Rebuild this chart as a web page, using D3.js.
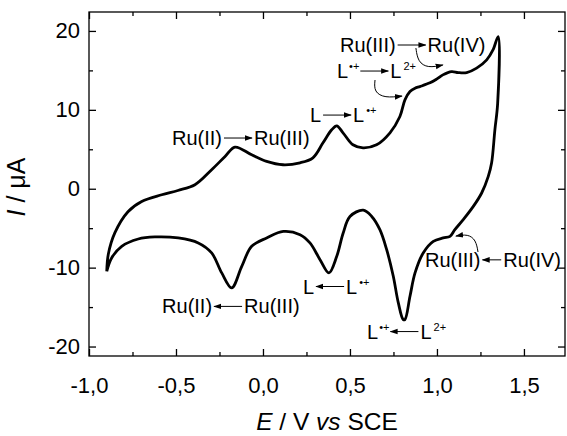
<!DOCTYPE html>
<html>
<head>
<meta charset="utf-8">
<script src="https://cdn.jsdelivr.net/npm/d3@7"></script>
<style>
  body { margin: 0; background: #fff; }
  svg { font-family: "Liberation Sans", Arial, sans-serif; }
  .axis text { font-size: 22px; fill: #000; }
  .axis line { stroke: #000; stroke-width: 1.3; }
  .axis path { display: none; }
</style>
</head>
<body>
<div id="chart"></div>
<script>
// cyclic voltammogram: anodic scan from -0.9 V to 1.35 V, then back
var scanE = [-0.898, -0.889, -0.851, -0.776, -0.697, -0.582, -0.489, -0.391, -0.295, -0.218,
  -0.161, -0.065, 0.021, 0.115, 0.213, 0.287, 0.345, 0.395, 0.424, 0.460,
  0.517, 0.575, 0.653, 0.730, 0.787, 0.816, 0.845, 0.874, 0.902, 0.960,
  0.998, 1.034, 1.084, 1.122, 1.171, 1.228, 1.286, 1.322, 1.352,
  1.349, 1.333, 1.314, 1.295, 1.257, 1.209, 1.151, 1.103, 1.075, 1.036,
  0.979, 0.921, 0.874, 0.845, 0.816, 0.806, 0.778, 0.749, 0.711, 0.672,
  0.625, 0.576, 0.500, 0.461, 0.424, 0.379, 0.328, 0.270, 0.213, 0.117,
  0.021, -0.065, -0.122, -0.180, -0.237, -0.295, -0.372, -0.487, -0.621, -0.717,
  -0.812, -0.870, -0.898]
var scanI = [-10.47, -8.3, -5.57, -2.91, -1.61, -0.76, -0.22, 0.51, 2.41, 4.09,
  5.28, 4.30, 3.46, 3.04, 3.29, 3.92, 5.82, 7.47, 7.97, 7.09,
  5.57, 5.19, 5.57, 7.09, 9.15, 11.27, 12.32, 12.75, 12.95, 13.42,
  13.89, 14.43, 14.85, 14.72, 14.72, 15.28, 16.33, 17.59, 19.28,
  10.85, 7.47, 3.25, 1.56, -0.54, -2.24, -3.92, -5.19, -6.04, -6.24,
  -6.67, -8.14, -10.67, -13.63, -16.58, -16.58, -14.47, -11.10, -7.72, -5.19,
  -3.51, -2.72, -3.51, -5.61, -8.57, -10.67, -8.99, -6.87, -5.82, -5.41,
  -6.24, -7.30, -9.84, -12.57, -10.67, -8.14, -6.87, -6.24, -6.11, -6.37,
  -7.30, -8.77, -10.47]

var xTicks = [-1, -0.5, 0, 0.5, 1, 1.5]
var xMinor = [-0.75, -0.25, 0.25, 0.75, 1.25]
var yTicks = [-20, -10, 0, 10, 20]
var yMinor = [-15, -5, 5, 15]

// redox labels: [left text, left sup, right text, right sup, E, I, direction]
var labels = [
  ["Ru(III)", "", "Ru(IV)", "", 0.443, 17.33, 1],
  ["L", "\u2022+", "L", "2+", 0.425, 14.03, 1],
  ["Ru(II)", "", "Ru(III)", "", -0.523, 5.54, 1],
  ["L", "", "L", "\u2022+", 0.270, 8.45, 1],
  ["Ru(II)", "", "Ru(III)", "", -0.580, -15.8, -1],
  ["L", "", "L", "\u2022+", 0.230, -13.28, -1],
  ["L", "\u2022+", "L", "2+", 0.598, -18.99, -1],
  ["Ru(III)", "", "Ru(IV)", "", 0.931, -9.9, -1]
]
// curved pointer arrows, E/I points
var curls = [
  [[0.879, 17.83], [0.891, 16.06], [0.948, 15.30], [1.034, 15.68]],
  [[0.644, 13.78], [0.638, 12.26], [0.701, 11.50], [0.799, 11.75]],
  [[1.236, -8.02], [1.224, -6.50], [1.178, -5.74], [1.109, -6.0]]
]

var W = 567, H = 436
var mLeft = 89, mRight = 565, mTop = 12, mBottom = 356

var svg = d3.select("#chart").append("svg")
  .attr("width", W).attr("height", H)

var defs = svg.append("defs")
defs.append("marker").attr("id", "head")
  .attr("viewBox", "0 0 10 10").attr("refX", 9).attr("refY", 5)
  .attr("markerWidth", 8).attr("markerHeight", 8)
  .attr("markerUnits", "userSpaceOnUse")
  .attr("orient", "auto")
  .append("path").attr("d", "M0,1.5 L10,5 L0,8.5 Z").attr("fill", "#000")

var x = d3.scaleLinear().domain([-1, 1.736]).range([mLeft, mRight])
var y = d3.scaleLinear().domain([-21.2, 22.4]).range([mBottom, mTop])

var fmt = function(d) { return d3.format(".1f")(d).replace(".", ",").replace("\u2212", "-") }

// axes, ticks pointing inward on all four sides
svg.append("g").attr("class", "axis")
  .attr("transform", `translate(0,${mBottom})`)
  .call(d3.axisBottom(x).tickValues(xTicks).tickFormat(fmt).tickSizeInner(-7).tickSizeOuter(0).tickPadding(21))
svg.append("g").attr("class", "axis")
  .attr("transform", `translate(0,${mBottom})`)
  .call(d3.axisBottom(x).tickValues(xMinor).tickFormat("").tickSizeInner(-4).tickSizeOuter(0))
svg.append("g").attr("class", "axis")
  .attr("transform", `translate(0,${mTop})`)
  .call(d3.axisTop(x).tickValues(xTicks).tickFormat("").tickSizeInner(-7).tickSizeOuter(0))
svg.append("g").attr("class", "axis")
  .attr("transform", `translate(0,${mTop})`)
  .call(d3.axisTop(x).tickValues(xMinor).tickFormat("").tickSizeInner(-4).tickSizeOuter(0))

svg.append("g").attr("class", "axis")
  .attr("transform", `translate(${mLeft},0)`)
  .call(d3.axisLeft(y).tickValues(yTicks).tickFormat(d => String(d)).tickSizeInner(-7).tickSizeOuter(0).tickPadding(9))
svg.append("g").attr("class", "axis")
  .attr("transform", `translate(${mLeft},0)`)
  .call(d3.axisLeft(y).tickValues(yMinor).tickFormat("").tickSizeInner(-4).tickSizeOuter(0))
svg.append("g").attr("class", "axis")
  .attr("transform", `translate(${mRight},0)`)
  .call(d3.axisRight(y).tickValues(yTicks).tickFormat("").tickSizeInner(-7).tickSizeOuter(0))
svg.append("g").attr("class", "axis")
  .attr("transform", `translate(${mRight},0)`)
  .call(d3.axisRight(y).tickValues(yMinor).tickFormat("").tickSizeInner(-4).tickSizeOuter(0))

svg.append("rect")
  .attr("x", mLeft).attr("y", mTop)
  .attr("width", mRight - mLeft).attr("height", mBottom - mTop)
  .attr("fill", "none").attr("stroke", "#000").attr("stroke-width", 1.3)

// the voltammogram
var pts = scanE.map((e, i) => [e, scanI[i]])
svg.append("path")
  .datum(pts)
  .attr("d", d3.line().x(d => x(d[0])).y(d => y(d[1])).curve(d3.curveCatmullRom.alpha(0.5)))
  .attr("fill", "none").attr("stroke", "#000").attr("stroke-width", 2.8)
  .attr("stroke-linejoin", "round")

// redox labels with straight arrows
labels.forEach(function(l) {
  var g = svg.append("g").attr("font-size", 20)
  var x0 = x(l[4])
  var t1 = g.append("text").attr("x", x0).attr("y", y(l[5]))
  t1.append("tspan").text(l[0])
  if (l[1]) t1.append("tspan").attr("dy", -8).attr("dx", 1).attr("font-size", 11).text(l[1])
  var w1 = t1.node().getComputedTextLength()
  var t2 = g.append("text").attr("y", y(l[5]))
  t2.append("tspan").text(l[2])
  if (l[3]) t2.append("tspan").attr("dy", -8).attr("dx", 2).attr("font-size", 11).text(l[3])
  var w2 = t2.node().getComputedTextLength()
  var xa = x0 + w1 + 2
  // keep the right-hand label inside the frame
  var len = Math.min(28, mRight - 4 - w2 - 2 - xa)
  var xb = xa + len
  t2.attr("x", xb + 2)
  var ya = y(l[5]) - 7
  g.append("line")
    .attr("x1", l[6] > 0 ? xa : xb).attr("x2", l[6] > 0 ? xb : xa)
    .attr("y1", ya).attr("y2", ya)
    .attr("stroke", "#000").attr("stroke-width", 1)
    .attr("marker-end", "url(#head)")
})

// curved pointers
curls.forEach(function(c) {
  svg.append("path")
    .attr("d", d3.line().x(d => x(d[0])).y(d => y(d[1])).curve(d3.curveBasis)(c))
    .attr("fill", "none").attr("stroke", "#000").attr("stroke-width", 1)
    .attr("marker-end", "url(#head)")
})

// axis titles
var xt = svg.append("text").attr("x", (mLeft + mRight) / 2).attr("y", 430)
  .attr("text-anchor", "middle").attr("font-size", 24.5)
xt.append("tspan").attr("font-style", "italic").text("E")
xt.append("tspan").text(" / V ")
xt.append("tspan").attr("font-style", "italic").text("vs")
xt.append("tspan").text(" SCE")

var yt = svg.append("text")
  .attr("transform", `translate(25,${(mTop + mBottom) / 2 + 3}) rotate(-90)`)
  .attr("text-anchor", "middle").attr("font-size", 25)
yt.append("tspan").attr("font-style", "italic").text("I")
yt.append("tspan").text(" / \u03bcA")
</script>
</body>
</html>
